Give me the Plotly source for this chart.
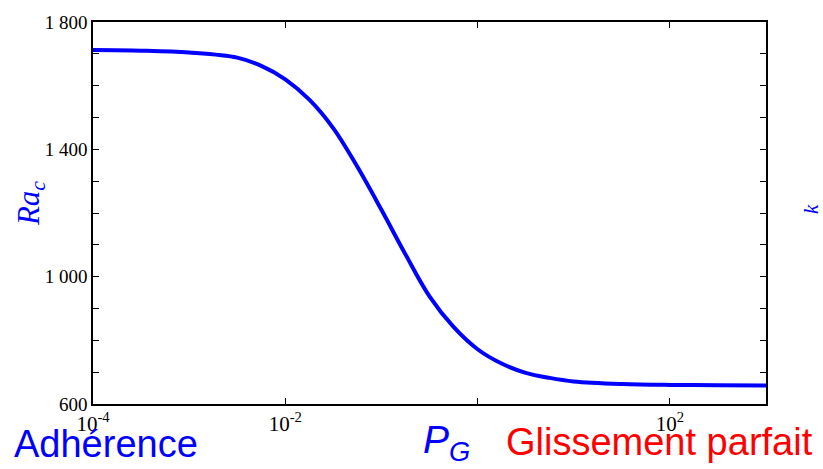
import plotly.graph_objects as go

# Data (x = P_G on a log scale, y = Ra_c)
log_pg = [-4.0, -3.5, -3.0, -2.5, -2.25, -2.0, -1.75, -1.5, -1.25, -1.0,
          -0.75, -0.5, -0.25, 0.0, 0.25, 0.5, 0.75, 1.0, 1.5, 2.0, 2.5, 3.0]
ra_c = [1712, 1710, 1704, 1688, 1662, 1620, 1556, 1466, 1345, 1210,
        1070, 938, 842, 772, 727, 698, 682, 671, 663, 660, 659, 658]
pg = [10 ** v for v in log_pg]

x_tickvals = [1e-4, 1e-2, 1, 1e2]
x_ticktext = ["10<sup>-4</sup>", "10<sup>-2</sup>", "", "10<sup>2</sup>"]
y_tickvals = list(range(600, 1801, 100))
y_ticktext = [("{:,}".format(v).replace(",", " ") if (v - 600) % 400 == 0 else "")
              for v in y_tickvals]

BLUE = "#0000ff"
RED = "#ff0000"

fig = go.Figure()
fig.add_trace(go.Scatter(x=pg, y=ra_c, mode="lines",
                         line=dict(color=BLUE, width=4, shape="spline", smoothing=1.0),
                         showlegend=False, hoverinfo="skip"))

axis_common = dict(showline=True, linecolor="black", linewidth=1.5, mirror="ticks",
                   ticks="inside", ticklen=6, tickwidth=1.2, tickcolor="black",
                   showgrid=False, zeroline=False)

fig.update_xaxes(type="log", range=[-4, 3], tickvals=x_tickvals, ticktext=x_ticktext,
                 tickfont=dict(family="Liberation Serif", size=21, color="black"),
                 **axis_common)
fig.update_yaxes(range=[600, 1800], tickvals=y_tickvals, ticktext=y_ticktext,
                 tickfont=dict(family="Liberation Serif", size=19, color="black"),
                 **axis_common)

fig.update_layout(
    width=823, height=469,
    margin=dict(l=93, r=57, t=20, b=65, pad=0),
    plot_bgcolor="white", paper_bgcolor="white",
    annotations=[
        dict(text="<i>Ra</i><sub><i>c</i></sub>", xref="paper", yref="paper",
             x=(31 - 93) / 673, y=0.526, xanchor="center", yanchor="middle",
             textangle=-90, showarrow=False,
             font=dict(family="Liberation Serif", size=31, color=BLUE)),
        dict(text="<i>k</i>", xref="paper", yref="paper",
             x=(811 - 93) / 673, y=(404 - 208) / 384, xanchor="center", yanchor="middle",
             textangle=-90, showarrow=False,
             font=dict(family="Liberation Serif", size=21, color=BLUE)),
        dict(text="Adhérence", xref="paper", yref="paper",
             x=(106 - 93) / 673, y=(404 - 444) / 384, xanchor="center", yanchor="middle",
             showarrow=False,
             font=dict(family="Liberation Sans", size=38, color=BLUE)),
        dict(text="<i>P</i><sub><i>G</i></sub>", xref="paper", yref="paper",
             x=(446 - 93) / 673, y=(404 - 443) / 384, xanchor="center", yanchor="middle",
             showarrow=False,
             font=dict(family="Liberation Sans", size=39, color=BLUE)),
        dict(text="Glissement parfait", xref="paper", yref="paper",
             x=(659 - 93) / 673, y=(404 - 442) / 384, xanchor="center", yanchor="middle",
             showarrow=False,
             font=dict(family="Liberation Sans", size=38, color=RED)),
    ],
)

fig.write_html("out.html")
